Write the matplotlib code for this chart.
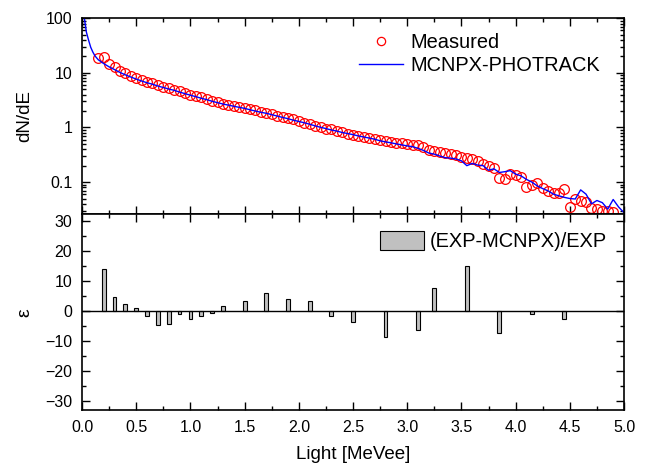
import numpy as np
import matplotlib
matplotlib.use("Agg")
import matplotlib.pyplot as plt
from matplotlib.ticker import MultipleLocator, LogLocator, NullFormatter, FixedLocator

plt.rcParams['font.family'] = ['Liberation Sans', 'DejaVu Sans']

# measured spectrum, x = 0.15 .. 4.90 step 0.05 MeVee
meas_x = np.round(np.arange(0.15, 4.9001, 0.05), 2)
meas_y = [19.0, 19.5, 14.5, 12.6, 11.0, 9.8, 8.9, 8.1, 7.4, 6.9,
          6.5, 6.0, 5.6, 5.25, 4.95, 4.6, 4.3, 4.0, 3.75, 3.55,
          3.3, 3.1, 2.9, 2.75, 2.63, 2.5, 2.4, 2.3, 2.2, 2.05,
          1.93, 1.86, 1.78, 1.64, 1.55, 1.48, 1.41, 1.32, 1.23, 1.16,
          1.07, 1.0, 0.955, 0.92, 0.87, 0.81, 0.76, 0.72, 0.71, 0.68,
          0.645, 0.62, 0.59, 0.575, 0.55, 0.525, 0.51, 0.50, 0.48, 0.47,
          0.44, 0.38, 0.37, 0.355, 0.34, 0.325, 0.315, 0.29, 0.275, 0.265,
          0.24, 0.215, 0.20, 0.18, 0.12, 0.112, 0.138, 0.135, 0.126, 0.083,
          0.089, 0.098, 0.079, 0.069, 0.062, 0.063, 0.074, 0.035, 0.05, 0.045,
          0.044, 0.034, 0.032, 0.030, 0.0295, 0.028]

# MCNPX-PHOTRACK simulation
sim_x = np.concatenate([[0.02, 0.04, 0.06, 0.08, 0.10, 0.12, 0.15],
                        np.round(np.arange(0.20, 5.0001, 0.05), 2)])
sim_y = [105, 56, 40, 29.5, 24, 20.4, 17.4,
         14.8, 12.9, 11.5, 10.2, 9.2, 8.4, 7.7, 7.1, 6.6, 6.2,
         5.75, 5.4, 5.07, 4.8, 4.45, 4.17, 3.9, 3.67, 3.43, 3.24,
         3.02, 2.85, 2.69, 2.57, 2.45, 2.34, 2.24, 2.11, 2.0, 1.9,
         1.82, 1.72, 1.62, 1.53, 1.45, 1.36, 1.29, 1.22, 1.15, 1.07,
         1.01, 0.955, 0.90, 0.86, 0.81, 0.775, 0.74, 0.70, 0.67, 0.64,
         0.61, 0.57, 0.545, 0.525, 0.50, 0.48, 0.46, 0.445, 0.415, 0.38,
         0.34, 0.325, 0.30, 0.28, 0.275, 0.265, 0.245, 0.20, 0.22, 0.205,
         0.20, 0.165, 0.175, 0.15, 0.155, 0.162, 0.14, 0.13, 0.112, 0.10,
         0.085, 0.076, 0.069, 0.060, 0.056, 0.0525, 0.050, 0.049, 0.072, 0.060,
         0.040, 0.046, 0.042, 0.032, 0.048, 0.035, 0.0275]

# relative difference (%)
diff_x = [0.2, 0.3, 0.4, 0.5, 0.6, 0.7, 0.8, 0.9, 1.0, 1.1, 1.2, 1.3,
          1.5, 1.7, 1.9, 2.1, 2.3, 2.5, 2.8, 3.1, 3.25, 3.55, 3.85, 4.15, 4.45]
diff_y = [14.0, 4.6, 2.4, 0.8, -1.6, -4.9, -4.3, -1.2, -2.9, -1.6, -0.9, 1.6,
          3.4, 5.8, 3.8, 3.4, -1.6, -3.6, -8.7, -6.3, 7.6, 15.0, -7.4, -1.2, -2.6]

fig = plt.figure(figsize=(6.49, 4.67), dpi=100)
ax1 = fig.add_axes([0.1264, 0.5407, 0.8351, 0.4201])
ax2 = fig.add_axes([0.1264, 0.1220, 0.8351, 0.4187])

ax1.plot(meas_x, meas_y, 'o', ms=7, mfc='none', mec='red', mew=0.9, label='Measured')
ax1.plot(sim_x, sim_y, '-', color='blue', lw=1.0, label='MCNPX-PHOTRACK')
ax1.set_yscale('log')
ax1.set_xlim(0, 5)
ax1.set_ylim(0.0255, 100)
ax1.set_ylabel('dN/dE', fontsize=13.5)
ax1.yaxis.set_label_coords(-0.09, 0.5)
ax1.yaxis.set_major_locator(FixedLocator([0.1, 1, 10, 100]))
ax1.set_yticklabels(['0.1', '1', '10', '100'])
ax1.yaxis.set_minor_locator(LogLocator(base=10, subs=np.arange(2, 10)))
ax1.yaxis.set_minor_formatter(NullFormatter())
ax1.legend(loc='upper right', bbox_to_anchor=(0.97, 0.968), frameon=False,
           fontsize=14.4, handlelength=2.2, handletextpad=0.35,
           borderaxespad=0, labelspacing=0.22, markerscale=0.85)
ax1.tick_params(labelbottom=False)

ax2.bar(diff_x, diff_y, width=0.035, color='#c0c0c0', edgecolor='black', lw=0.8,
        label='(EXP-MCNPX)/EXP')
ax2.axhline(0, color='black', lw=1.0)
ax2.set_xlim(0, 5)
ax2.set_ylim(-33, 32)
ax2.set_xlabel('Light [MeVee]', fontsize=13.5, labelpad=8)
ax2.set_ylabel('\u03b5', fontsize=14)
ax2.yaxis.set_label_coords(-0.09, 0.5)
ax2.yaxis.set_major_locator(MultipleLocator(10))
ax2.yaxis.set_minor_locator(MultipleLocator(5))
ax2.legend(loc='upper right', bbox_to_anchor=(0.984, 0.958), frameon=False,
           fontsize=14.4, handlelength=2.2, handleheight=1.1,
           handletextpad=0.3, borderaxespad=0)

for ax in (ax1, ax2):
    ax.xaxis.set_major_locator(MultipleLocator(0.5))
    ax.xaxis.set_minor_locator(MultipleLocator(0.25))
    ax.tick_params(which='both', direction='in', top=True, right=True, labelsize=11.5)
    ax.tick_params(which='major', length=6, width=1.0, pad=7)
    ax.tick_params(which='minor', length=3, width=1.0)
    for s in ax.spines.values():
        s.set_linewidth(1.2)

ax2.xaxis.set_major_formatter(matplotlib.ticker.FormatStrFormatter('%.1f'))

fig.savefig('out.png', dpi=100)
